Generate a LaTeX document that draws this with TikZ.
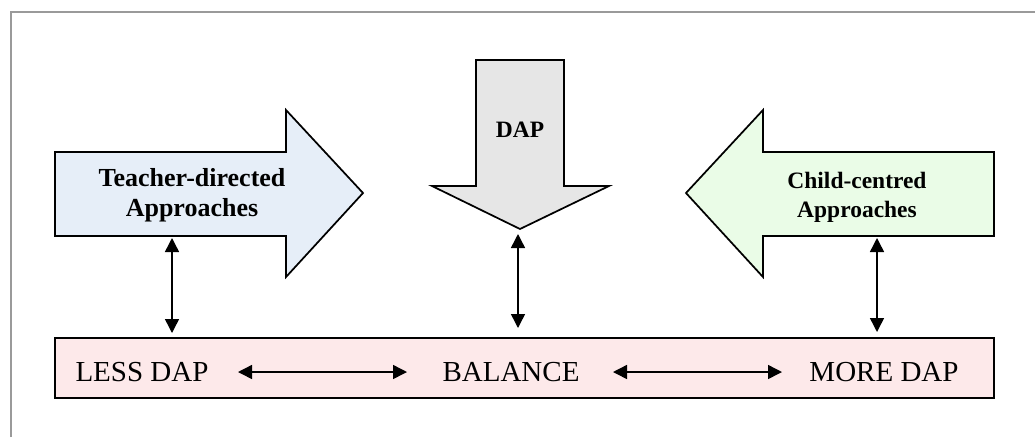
\documentclass[tikz,border=0pt]{standalone}
\usepackage{fontspec}
\setmainfont{Liberation Serif}
\usetikzlibrary{arrows.meta}
\definecolor{tblue}{HTML}{E6EEF8}
\definecolor{dgray}{HTML}{E6E6E6}
\definecolor{cgreen}{HTML}{EAFCE7}
\definecolor{bpink}{HTML}{FDE9EA}
\definecolor{framegray}{HTML}{9A9A9A}
\tikzset{
  shapeline/.style={draw=black, line width=1.3pt, line join=miter},
  biarrow/.style={line width=1.1pt, {Triangle[length=10.5pt,width=10.5pt]}-{Triangle[length=10.5pt,width=10.5pt]}},
  boldlbl/.style={font=\bfseries, align=center, inner sep=0pt},
  barlbl/.style={font=\fontsize{21.75pt}{24pt}\selectfont, inner sep=0pt, anchor=base},
}
\begin{document}
\begin{tikzpicture}[x=0.75pt, y=-0.75pt]
\useasboundingbox (0,0) rectangle (1035,437);
% outer frame (partially visible)
\draw[framegray, line width=1.5pt] (11,437) -- (11,12) -- (1036,12);

% Teacher-directed arrow
\draw[shapeline, fill=tblue] (55,152) -- (286,152) -- (286,110) -- (363,193) -- (286,277) -- (286,236) -- (55,236) -- cycle;
\node[boldlbl, font=\bfseries\fontsize{19.5pt}{22.5pt}\selectfont] (teacher) at (192,195) {Teacher-directed\\Approaches};

% DAP arrow
\draw[shapeline, fill=dgray] (476,60) -- (564,60) -- (564,186) -- (609,186) -- (520,229) -- (432,186) -- (476,186) -- cycle;
\node[boldlbl, font=\bfseries\fontsize{17.6pt}{21pt}\selectfont] (dap) at (520,130) {DAP};

% Child-centred arrow
\draw[shapeline, fill=cgreen] (994,152) -- (763,152) -- (763,110) -- (686,193) -- (763,277) -- (763,236) -- (994,236) -- cycle;
\node[boldlbl, font=\bfseries\fontsize{17.6pt}{21.75pt}\selectfont] (child) at (857,197) {Child-centred\\Approaches};

% bottom bar
\draw[shapeline, fill=bpink] (55,338) rectangle (994,398);
\node[barlbl] (less) at (142,381) {LESS DAP};
\node[barlbl] (bal) at (511,381) {BALANCE};
\node[barlbl] (more) at (884,381) {MORE DAP};

% connector endpoints
\coordinate (tA) at (172,238);
\coordinate (tB) at (172,333);
\coordinate (dA) at (518,234);
\coordinate (dB) at (518,328);
\coordinate (cA) at (877,238);
\coordinate (cB) at (877,332);
\coordinate (h1a) at (238,372);
\coordinate (h1b) at (407,372);
\coordinate (h2a) at (613,372);
\coordinate (h2b) at (782,372);

\draw[biarrow] (tA) -- (tB);
\draw[biarrow] (dA) -- (dB);
\draw[biarrow] (cA) -- (cB);
\draw[biarrow] (h1a) -- (h1b);
\draw[biarrow] (h2a) -- (h2b);
\end{tikzpicture}
\end{document}
